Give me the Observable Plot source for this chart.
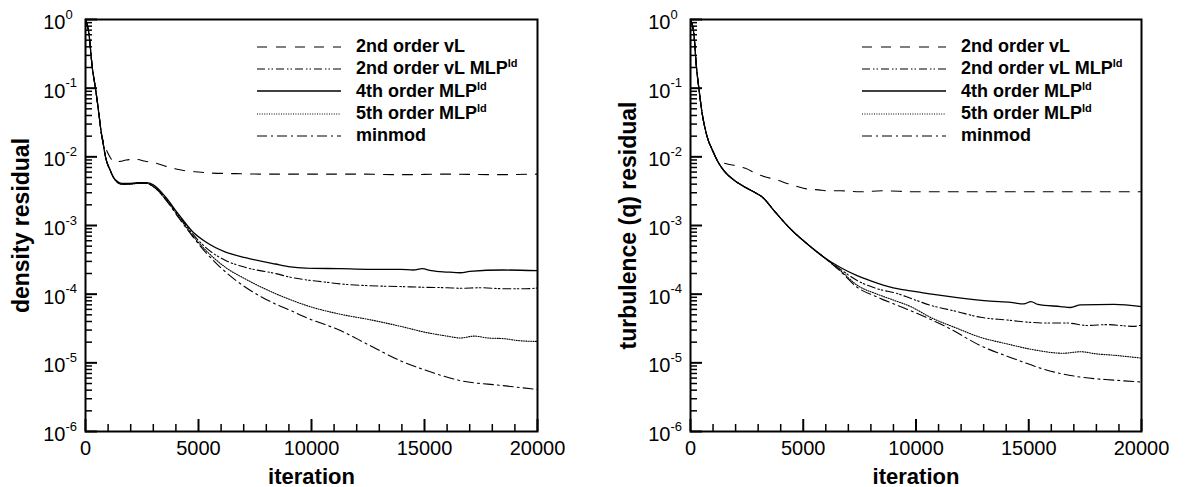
<!DOCTYPE html>
<html><head><meta charset="utf-8">
<script src="https://cdn.jsdelivr.net/npm/d3@7"></script>
<script src="https://cdn.jsdelivr.net/npm/@observablehq/plot@0.6"></script>
<style>
body{margin:0;background:#fff;font-family:"Liberation Sans",Arial,sans-serif}
#wrap{position:relative;width:1190px;height:487px;overflow:hidden}
.panel{position:absolute;top:0}
.legend{position:absolute;top:35.5px;font-weight:bold;font-size:18px;color:#000}
.row{display:flex;align-items:center;height:22.3px;white-space:nowrap}
.row svg{flex:none}
.row span{margin-left:15px}
.row sup{font-size:11px;vertical-align:7px;line-height:0}
</style></head><body><div id="wrap"></div>
<script>
// ---------- data (iteration, residual) ----------
const seriesNames = ["2nd order vL", "2nd order vL MLP", "4th order MLP", "5th order MLP", "minmod"];
const seriesSup = ["", "ld", "ld", "ld", ""];
const dashStyles = ["10,9", "8,3,1.5,2,1.5,3", null, "1,1.4", "10,4,2,4"];

const xMajor = [0, 5000, 10000, 15000, 20000];
const xMinor = [1000,2000,3000,4000,6000,7000,8000,9000,11000,12000,13000,14000,16000,17000,18000,19000];
const yMajor = [1e-6, 1e-5, 1e-4, 1e-3, 1e-2, 1e-1, 1];

// density residual panel
const densStart = [[0,1],[150,0.63],[300,0.2],[440,0.1],[590,0.043],[664,0.027],[810,0.0138],[885,0.01],[1100,0.0063],[1240,0.005]];
const densVL = [[0,1],[150,0.63],[300,0.2],[440,0.1],[590,0.043],[700,0.022],[800,0.0165],[1000,0.0112],[1300,0.0084],[1550,0.0086],[1800,0.0090],[2200,0.0092],[2650,0.0086],[3170,0.0080],[3610,0.0072],[4060,0.0066],[4500,0.0062],[5000,0.0060],[5600,0.0058],[6500,0.0057],[8000,0.0056],[10000,0.0056],[12000,0.0056],[14000,0.0055],[16000,0.0056],[18000,0.0055],[20000,0.0056]];
const densVLMLP = [[1400,0.0043],[1600,0.0040],[1900,0.0040],[2300,0.0041],[2700,0.0041],[3000,0.0037],[3540,0.0025],[4120,0.0014],[4730,7.6e-4],[5310,4.8e-4],[6200,3.1e-4],[7080,2.45e-4],[8400,2.0e-4],[9070,1.76e-4],[9740,1.62e-4],[10600,1.5e-4],[11280,1.41e-4],[12500,1.33e-4],[13940,1.29e-4],[15000,1.26e-4],[16000,1.24e-4],[16600,1.22e-4],[17500,1.24e-4],[18500,1.2e-4],[19500,1.2e-4],[20000,1.23e-4]];
const dens4th = [[1400,0.0044],[1600,0.0041],[1900,0.0041],[2300,0.0042],[2700,0.0042],[3000,0.0039],[3540,0.0026],[4120,0.00145],[4730,8.2e-4],[5310,5.8e-4],[6200,4.1e-4],[7080,3.4e-4],[8400,2.75e-4],[9070,2.5e-4],[9740,2.4e-4],[11280,2.35e-4],[12500,2.3e-4],[13940,2.3e-4],[14500,2.25e-4],[14900,2.35e-4],[15300,2.2e-4],[16000,2.1e-4],[16600,2.05e-4],[17000,2.15e-4],[18500,2.25e-4],[20000,2.2e-4]];
const dens5th = [[1400,0.0043],[1600,0.0040],[1900,0.0040],[2300,0.0041],[2700,0.0041],[3000,0.0037],[3540,0.0024],[4120,0.00135],[4730,7.2e-4],[5310,4.4e-4],[6200,2.45e-4],[7080,1.66e-4],[8400,1.02e-4],[9070,8.3e-5],[9740,6.9e-5],[11280,5.1e-5],[12500,4.3e-5],[13940,3.4e-5],[15000,2.8e-5],[16000,2.45e-5],[16600,2.3e-5],[17200,2.45e-5],[17800,2.3e-5],[18500,2.25e-5],[19200,2.1e-5],[20000,2.05e-5]];
const densMinmod = [[1400,0.0043],[1600,0.0040],[1900,0.0040],[2300,0.0041],[2700,0.0041],[3000,0.0037],[3540,0.0024],[4120,0.0013],[4730,7.0e-4],[5310,4.1e-4],[6200,2.1e-4],[7080,1.26e-4],[8400,7.2e-5],[9070,5.8e-5],[9740,4.6e-5],[11280,2.95e-5],[12500,1.85e-5],[13940,1.07e-5],[15000,7.9e-6],[16600,5.5e-6],[18360,4.7e-6],[20000,4.1e-6]];

// turbulence (q) residual panel
const turbStart = [[0,1],[146,0.63],[266,0.2],[370,0.1],[517,0.043],[740,0.0195],[1000,0.012],[1180,0.0089],[1480,0.0063],[1920,0.0046],[2365,0.0037],[2955,0.0029],[3180,0.0026],[3695,0.00166],[4435,8.9e-4],[5175,5.4e-4],[5915,3.45e-4]];
const turbVL = [[0,1],[146,0.63],[266,0.2],[370,0.1],[517,0.043],[740,0.0195],[1000,0.0118],[1180,0.0092],[1550,0.0080],[2070,0.0074],[2440,0.0068],[2960,0.0056],[3330,0.0051],[3845,0.0046],[4290,0.0041],[4730,0.0037],[5175,0.0034],[5690,0.0033],[6060,0.0032],[6650,0.0032],[7500,0.0031],[8500,0.0032],[10000,0.0031],[11500,0.0031],[13000,0.0031],[14500,0.0031],[16000,0.0031],[17500,0.0031],[19000,0.0031],[20000,0.0031]];
const turbVLMLP = [[6650,2.3e-4],[7390,1.58e-4],[8280,1.2e-4],[9170,1.02e-4],[9760,8.7e-5],[10640,6.9e-5],[11800,5.6e-5],[12860,4.6e-5],[14050,4.2e-5],[15000,3.9e-5],[15820,3.8e-5],[16700,3.8e-5],[17590,3.5e-5],[18500,3.6e-5],[19650,3.4e-5],[20000,3.55e-5]];
const turb4th = [[6650,2.45e-4],[7390,1.86e-4],[8280,1.45e-4],[9170,1.2e-4],[9760,1.12e-4],[10700,1.0e-4],[11830,8.9e-5],[13300,7.9e-5],[14200,7.6e-5],[14780,7.2e-5],[15100,7.8e-5],[15400,7.1e-5],[16410,6.6e-5],[16850,6.4e-5],[17300,7.0e-5],[18780,7.1e-5],[20000,6.6e-5]];
const turb5th = [[6650,2.2e-4],[7390,1.35e-4],[8280,1.0e-4],[9000,8.2e-5],[9760,6.6e-5],[10640,4.6e-5],[11800,3.2e-5],[12860,2.35e-5],[14000,1.9e-5],[15080,1.58e-5],[16540,1.38e-5],[17300,1.45e-5],[18000,1.35e-5],[18780,1.29e-5],[20000,1.17e-5]];
const turbMinmod = [[6650,2.15e-4],[7390,1.26e-4],[8280,9.1e-5],[9900,5.5e-5],[11380,3.3e-5],[12860,1.78e-5],[14340,1.15e-5],[15820,7.8e-6],[17300,6.2e-6],[18780,5.6e-6],[20000,5.25e-6]];

// ---------- build ----------
const yMinor = [];
for (let e = -6; e < 0; e++) for (let m = 2; m <= 9; m++) yMinor.push(m * Math.pow(10, e));

const H = 487, MT = 19, MB = 56;
const panels = [
  {left: 0, width: 595, ml: 85, mr: 58, title: "density residual", titleDx: -64,
   series: [densVL, densStart.concat(densVLMLP), densStart.concat(dens4th), densStart.concat(dens5th), densStart.concat(densMinmod)]},
  {left: 595, width: 595, ml: 95, mr: 49, title: "turbulence (q) residual", titleDx: -62,
   series: [turbVL, turbStart.concat(turbVLMLP), turbStart.concat(turb4th), turbStart.concat(turb5th), turbStart.concat(turbMinmod)]}
];

const wrap = document.getElementById("wrap");
for (const p of panels) {
  const fw = p.width - p.ml - p.mr;
  const fh = H - MT - MB;
  const lines = p.series.map((s, i) => Plot.line(s, {
    x: d => d[0], y: d => d[1], stroke: "black",
    strokeWidth: i === 2 ? 1.3 : 1.1, strokeDasharray: dashStyles[i], curve: "monotone-x"
  }));
  const chart = Plot.plot({
    width: p.width, height: H,
    marginTop: MT, marginBottom: MB, marginLeft: p.ml, marginRight: p.mr,
    style: {fontFamily: "'Liberation Sans', Arial, sans-serif", color: "black", background: "white", overflow: "visible"},
    x: {domain: [0, 20000]},
    y: {type: "log", domain: [1e-6, 1]},
    marks: [
      ...lines,
      // inward ticks
      Plot.ruleX(xMinor, {x: d => d, insetTop: fh - 7, stroke: "black", strokeWidth: 1.5}),
      Plot.ruleX(xMajor, {x: d => d, insetTop: fh - 12, stroke: "black", strokeWidth: 2}),
      Plot.ruleY(yMinor, {y: d => d, insetRight: fw - 7, stroke: "black", strokeWidth: 1.5}),
      Plot.ruleY(yMajor, {y: d => d, insetRight: fw - 12, stroke: "black", strokeWidth: 2}),
      // tick labels
      Plot.axisX(xMajor, {tickSize: 0, tickPadding: 9, fontSize: 20, tickFormat: d => String(d), label: null}),
      Plot.axisY(yMajor, {tickSize: 0, tickPadding: 20, fontSize: 20, dy: 3, tickFormat: () => "10", label: null}),
      Plot.axisY(yMajor, {tickSize: 0, tickPadding: 20, fontSize: 13, dy: -5, textAnchor: "start", tickFormat: d => String(Math.round(Math.log10(d))), label: null}),
      Plot.frame({stroke: "black", strokeWidth: 2}),
      Plot.text(["iteration"], {frameAnchor: "bottom", dy: 52, fontSize: 22, fontWeight: "bold", textAnchor: "middle", text: d => d}),
      Plot.text([p.title], {frameAnchor: "left", dx: p.titleDx, rotate: -90, fontSize: 23, fontWeight: "bold", textAnchor: "middle", text: d => d})
    ]
  });
  chart.classList.add("panel");
  chart.style.left = p.left + "px";
  wrap.appendChild(chart);

  // legend inside the frame
  const lg = document.createElement("div");
  lg.className = "legend";
  lg.style.left = (p.left + p.ml + 172) + "px";
  seriesNames.forEach((name, i) => {
    const row = document.createElement("div");
    row.className = "row";
    const dash = dashStyles[i] ? ` stroke-dasharray="${dashStyles[i]}"` : "";
    row.innerHTML = `<svg width="84" height="22"><line x1="0" x2="84" y1="11" y2="11" stroke="black" stroke-width="${i===2?1.3:1.1}"${dash}/></svg>` +
      `<span>${name}${seriesSup[i] ? `<sup>${seriesSup[i]}</sup>` : ""}</span>`;
    lg.appendChild(row);
  });
  wrap.appendChild(lg);
}
</script></body></html>
